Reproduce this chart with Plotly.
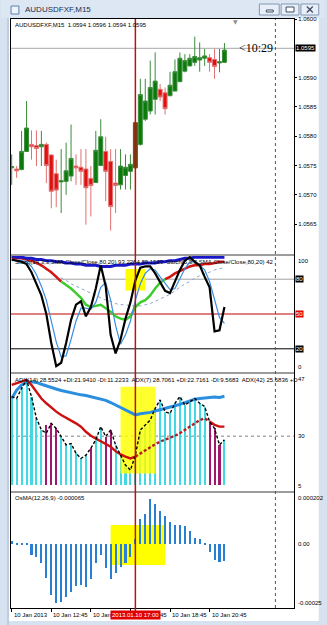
import plotly.graph_objects as go
from plotly.subplots import make_subplots

# ---------------- layout helpers (pixel -> paper) ----------------
W, H = 327, 625
ML, MR, MT, MB = 10, 31, 19, 17
PW, PH = W - ML - MR, H - MT - MB


def px(x):
    return (x - ML) / PW


def py(y):
    return (H - MB - y) / PH


# ---------------- data ----------------
bars = list(range(44))
selected_bar = 25
future_line = 53.3

open_ = [1.05746, 1.05744, 1.05743, 1.05774, 1.05786, 1.05784, 1.05782, 1.05786, 1.05768, 1.05736, 1.05722,
         1.05723, 1.05732, 1.05749, 1.05747, 1.05744, 1.05728, 1.05721, 1.05750, 1.05774, 1.05757, 1.05720,
         1.05717, 1.05733, 1.05740, 1.05746, 1.05786, 1.05829, 1.05843, 1.05863, 1.05880, 1.05874, 1.05869,
         1.05877, 1.05893, 1.05911, 1.05920, 1.05926, 1.05930, 1.05933, 1.05934, 1.05931, 1.05925, 1.05926]
high = [1.05769, 1.05749, 1.05809, 1.05860, 1.05810, 1.05810, 1.05809, 1.05789, 1.05769, 1.05760, 1.05778,
        1.05789, 1.05820, 1.05769, 1.05778, 1.05778, 1.05749, 1.05809, 1.05829, 1.05799, 1.05778, 1.05778,
        1.05778, 1.05769, 1.05769, 1.05826, 1.05898, 1.05898, 1.05929, 1.05943, 1.05889, 1.05883, 1.05910,
        1.05931, 1.05943, 1.05940, 1.05940, 1.05970, 1.05960, 1.05949, 1.05940, 1.05949, 1.05949, 1.05959]
low = [1.05717, 1.05729, 1.05742, 1.05774, 1.05760, 1.05749, 1.05749, 1.05720, 1.05677, 1.05679, 1.05669,
       1.05700, 1.05723, 1.05717, 1.05717, 1.05649, 1.05663, 1.05721, 1.05749, 1.05689, 1.05639, 1.05669,
       1.05709, 1.05709, 1.05709, 1.05743, 1.05784, 1.05826, 1.05837, 1.05837, 1.05860, 1.05837, 1.05869,
       1.05877, 1.05893, 1.05909, 1.05919, 1.05920, 1.05910, 1.05920, 1.05910, 1.05898, 1.05909, 1.05926]
close = [1.05748, 1.05741, 1.05774, 1.05814, 1.05782, 1.05779, 1.05786, 1.05750, 1.05706, 1.05708, 1.05724,
         1.05741, 1.05762, 1.05746, 1.05740, 1.05712, 1.05716, 1.05776, 1.05799, 1.05740, 1.05680, 1.05716,
         1.05749, 1.05747, 1.05752, 1.05823, 1.05871, 1.05860, 1.05883, 1.05894, 1.05867, 1.05847, 1.05887,
         1.05910, 1.05933, 1.05929, 1.05933, 1.05936, 1.05934, 1.05937, 1.05926, 1.05919, 1.05927, 1.05947]
bid_price = 1.0595
price_ticks = [1.0565, 1.0570, 1.0575, 1.0580, 1.0585, 1.0590, 1.0600]
price_range = [1.05599, 1.06000]

# stochastic pane
stoch_main = [97, 96, 95, 93, 86, 76, 66, 50, 25, 5, 8, 25, 45, 58, 61, 48, 56, 72, 92, 74, 32, 16,
              28, 46, 60, 79, 90, 91, 91, 85, 77, 70, 68, 78, 88, 96, 99, 95, 92, 82, 73, 35, 36, 56]
stoch_signal = [96, 96, 96, 95, 91, 84, 74, 62, 45, 26, 13, 14, 28, 44, 55, 55, 54, 60, 73, 77, 62, 40,
                24, 32, 44, 62, 76, 85, 89, 88, 82, 76, 71, 72, 80, 89, 95, 95, 92, 88, 78, 62, 47, 42]
stoch_slow = [98, 98, 98, 97, 96, 94, 92, 89, 86, 82, 78, 75, 72, 68, 64, 58, 56, 57, 58, 55, 52, 48,
              46, 45, 48, 56, 60, 62, 66, 72, 77, 80, 82, 85, 87, 89, 91, 92, 92, 93, 93, 94, 95, 95]
stoch_slow_key = ['up'] * 10 + ['dn'] * 21 + ['up'] * 13
stoch_long = [100, 99, 99, 98, 98, 97, 97, 96, 96, 95, 95, 94, 94, 93, 93, 92, 92, 92, 91, 91, 91, 92,
              92, 92, 93, 93, 93, 94, 94, 94, 95, 95, 96, 96, 97, 98, 98, 99, 99, 99, 99, 99, 99, 99]
stoch_dotted = [99, 98, 98, 97, 95, 93, 91, 88, 86, 83, 81, 79, 76, 74, 72, 70, 68, 66, 64, 62, 61, 59,
                58, 58, 57, 57, 57, 58, 59, 61, 63, 65, 67, 70, 73, 76, 78, 81, 83, 85, 86, 88, 89, 90]
stoch_levels = [80, 50, 20]
stoch_box = [23.0, 27.0, 70.2, 88.8]

# ADX pane
adx_hist = [40.8, 40.3, 43.1, 45.4, 40.8, 34.9, 31.7, 33.0, 33.5, 32.1, 29.9, 27.6, 28.0, 25.3, 23.9, 24.8,
            26.7, 29.0, 32.6, 29.9, 31.7, 27.6, 24.8, 22.1, 20.7, 24.8, 31.7, 33.2, 34.4, 37.6, 39.9, 36.7,
            36.2, 39.0, 40.8, 38.5, 39.4, 40.3, 39.0, 38.1, 34.0, 32.1, 27.6, 29.0]
adx_hist_key = ['c'] * 7 + ['p'] * 3 + ['c'] * 6 + ['p', 'c', 'c', 'p', 'p'] + ['c'] * 19 + ['p'] * 3 + ['c']
adx_fast = [40.8, 40.3, 43.1, 45.4, 40.8, 34.9, 31.7, 30.8, 33.5, 32.1, 29.9, 27.6, 28.0, 25.3, 23.9, 24.8,
            26.7, 29.0, 32.6, 29.9, 31.7, 27.6, 24.8, 22.1, 20.7, 24.8, 31.7, 33.2, 34.4, 37.6, 39.9, 36.7,
            36.2, 39.0, 40.8, 38.5, 39.4, 40.3, 39.0, 38.1, 34.0, 32.1, 27.6, 29.0]
adx_mid = [44.0, 44.5, 44.9, 45.4, 44.0, 42.2, 40.3, 39.0, 37.8, 36.7, 35.8, 35.1, 34.4, 33.5, 32.6, 31.2,
           30.1, 29.4, 28.7, 28.0, 27.1, 25.9, 25.0, 24.4, 23.9, 24.4, 25.3, 26.2, 27.1, 27.8, 28.5, 29.0,
           29.4, 30.1, 30.8, 31.7, 32.6, 33.5, 34.4, 34.9, 34.0, 33.1, 32.6, 32.6]
adx_mid_key = ['s'] * 25 + ['d'] * 15 + ['s'] * 4
adx_slow = [40.3, 42.6, 44.0, 44.7, 44.9, 44.7, 44.2, 43.7, 43.3, 42.9, 42.5, 42.2, 41.8, 41.4, 41.3, 41.1,
            40.8, 40.5, 40.3, 39.8, 39.2, 38.5, 37.8, 37.1, 36.3, 35.8, 36.1, 36.2, 36.5, 36.9, 37.2, 37.6,
            38.0, 38.3, 38.7, 39.2, 39.6, 40.1, 40.3, 40.5, 40.7, 40.7, 40.6, 40.9]
adx_base = 16.6
adx_range = [15, 47]
adx_level = 30
adx_box = [22.0, 29.1, 19.8, 43.5]

# OsMA pane
osma = [0.000015, 0.000002, 0.000002, 0.000002, -0.0000417, -0.0000482, -0.0000718, -0.000133, -0.000199,
        -0.000232, -0.000225, -0.000208, -0.000186, -0.000163, -0.000160, -0.000169, -0.000137, -0.0000718,
        -0.0000417, -0.0000940, -0.000137, -0.000114, -0.0000875, -0.0000718, -0.0000508, 0.00002, 0.0000985,
        0.000120, 0.000177, 0.000159, 0.000133, 0.000112, 0.0000867, 0.0000763, 0.0000763, 0.0000723,
        0.0000540, 0.0000239, 0.0000200, 0.000004, -0.0000288, -0.0000613, -0.0000677, -0.0000653]
osma_range = [-0.00025, 0.000202]
osma_box = [20.0, 31.0, -0.000081, 0.0000763]

time_tick_bars = [0, 8, 16, 24, 32, 40]
time_tick_text = ["10 Jan 2013", "10 Jan 12:45", "10 Jan 14:45", "10 Jan 16:45", "10 Jan 18:45", "10 Jan 20:45"]
x_range = [-0.14, 57.06]

FONT = "Liberation Sans"

# ---------------- figure ----------------
fig = make_subplots(rows=4, cols=1, shared_xaxes=True, vertical_spacing=0.0)

# candles (selected bar drawn separately in brown)
norm = [i for i in bars if i != selected_bar]
fig.add_trace(go.Candlestick(
    x=norm, open=[open_[i] for i in norm], high=[high[i] for i in norm],
    low=[low[i] for i in norm], close=[close[i] for i in norm],
    increasing=dict(line=dict(color="#3c8c3c", width=1), fillcolor="#0a7a0a"),
    decreasing=dict(line=dict(color="#e07070", width=1), fillcolor="#e01010"),
    whiskerwidth=0, showlegend=False, hoverinfo="skip"), row=1, col=1)
fig.add_trace(go.Candlestick(
    x=[selected_bar], open=[open_[selected_bar]], high=[high[selected_bar]],
    low=[low[selected_bar]], close=[close[selected_bar]],
    increasing=dict(line=dict(color="#7a4a10", width=1), fillcolor="#6b4212"),
    decreasing=dict(line=dict(color="#7a4a10", width=1), fillcolor="#6b4212"),
    whiskerwidth=0, showlegend=False, hoverinfo="skip"), row=1, col=1)


def runs(keys):
    segs, start = [], 0
    for k in range(1, len(keys) + 1):
        if k == len(keys) or keys[k] != keys[start]:
            segs.append((start, min(k, len(keys) - 1), keys[start]))
            start = k
    return segs


# stochastic
fig.add_trace(go.Scatter(x=bars, y=stoch_dotted, mode="lines", line=dict(color="#8ea6cf", width=1, dash="dot"),
                         showlegend=False, hoverinfo="skip"), row=2, col=1)
for a, b, k in runs(stoch_slow_key):
    fig.add_trace(go.Scatter(x=bars[a:b + 1], y=stoch_slow[a:b + 1], mode="lines",
                             line=dict(color="#d41414" if k == "up" else "#3ccc2c", width=2.5),
                             showlegend=False, hoverinfo="skip"), row=2, col=1)
fig.add_trace(go.Scatter(x=bars, y=stoch_long, mode="lines", line=dict(color="#1818c8", width=3),
                         showlegend=False, hoverinfo="skip"), row=2, col=1)
fig.add_trace(go.Scatter(x=bars, y=stoch_signal, mode="lines", line=dict(color="#3a8ee0", width=1.2),
                         showlegend=False, hoverinfo="skip"), row=2, col=1)
fig.add_trace(go.Scatter(x=bars, y=stoch_main, mode="lines", line=dict(color="#000000", width=2.2),
                         showlegend=False, hoverinfo="skip"), row=2, col=1)

# ADX
fig.add_trace(go.Bar(x=bars, y=[v - adx_base for v in adx_hist], base=adx_base, width=0.42,
                     marker=dict(color=["#42d8e4" if k == "c" else "#a0186e" for k in adx_hist_key], line_width=0),
                     showlegend=False, hoverinfo="skip"), row=3, col=1)
x0, x1, y0, y1 = adx_box
fig.add_trace(go.Scatter(x=[x0, x1, x1, x0, x0], y=[y0, y0, y1, y1, y0], mode="lines", fill="toself",
                         fillcolor="rgba(255,255,0,0.82)", line=dict(width=0), showlegend=False,
                         hoverinfo="skip"), row=3, col=1)
fig.add_trace(go.Scatter(x=bars, y=adx_slow, mode="lines", line=dict(color="#2b8fe0", width=3),
                         showlegend=False, hoverinfo="skip"), row=3, col=1)
for a, b, k in runs(adx_mid_key):
    fig.add_trace(go.Scatter(x=bars[a:b + 1], y=adx_mid[a:b + 1], mode="lines",
                             line=dict(color="#cc1111" if k == "s" else "#b02020", width=2.4,
                                       dash="solid" if k == "s" else "3px,2px"),
                             showlegend=False, hoverinfo="skip"), row=3, col=1)
fig.add_trace(go.Scatter(x=bars, y=adx_fast, mode="lines", line=dict(color="#000000", width=1.4, dash="3px,2px"),
                         showlegend=False, hoverinfo="skip"), row=3, col=1)

# OsMA
fig.add_trace(go.Bar(x=bars, y=osma, width=0.42, marker=dict(color="#2a7fd2", line_width=0),
                     showlegend=False, hoverinfo="skip"), row=4, col=1)

# ---------------- axes ----------------
ax_common = dict(showgrid=False, zeroline=False, showline=True, linecolor="#000000", linewidth=1, mirror=True)
for r in range(1, 5):
    fig.update_xaxes(range=x_range, fixedrange=True, rangeslider_visible=False, showticklabels=False,
                     **ax_common, row=r, col=1)
fig.update_xaxes(tickmode="array", tickvals=time_tick_bars, ticks="outside", ticklen=3, tickcolor="#000",
                 row=4, col=1)

fig.update_yaxes(side="right", range=price_range, tickmode="array", tickvals=price_ticks,
                 ticktext=["%.4f" % v for v in price_ticks], ticks="outside", ticklen=2, tickcolor="#000",
                 tickfont=dict(family=FONT, size=6, color="#000"), **ax_common, row=1, col=1)
fig.update_yaxes(side="right", range=[0, 100], showticklabels=False, **ax_common, row=2, col=1)
fig.update_yaxes(side="right", range=adx_range, showticklabels=False, **ax_common, row=3, col=1)
fig.update_yaxes(side="right", range=osma_range, showticklabels=False, **ax_common, row=4, col=1)

fig.update_layout(
    width=W, height=H, margin=dict(l=ML, r=MR, t=MT, b=MB),
    paper_bgcolor="#d6e2f0", plot_bgcolor="#ffffff",
    bargap=0, boxgap=0.2, boxgroupgap=0, showlegend=False,
    yaxis=dict(domain=[py(254), 1.0]),
    yaxis2=dict(domain=[py(372), py(256)]),
    yaxis3=dict(domain=[py(491), py(374)]),
    yaxis4=dict(domain=[0.0, py(493)]),
)

shapes = []
# window client area (white), title bar, buttons
shapes.append(dict(type="rect", xref="paper", yref="paper", x0=px(8), x1=px(321), y0=py(621), y1=py(18),
                   fillcolor="#ffffff", line=dict(width=0), layer="below"))
shapes.append(dict(type="rect", xref="paper", yref="paper", x0=px(0), x1=px(327), y0=py(17.5), y1=py(0),
                   fillcolor="#dde7f4", line=dict(width=0), layer="below"))
shapes.append(dict(type="line", xref="paper", yref="paper", x0=px(7), x1=px(7), y0=py(625), y1=py(18),
                   line=dict(color="#a9b9cd", width=1), layer="below"))
shapes.append(dict(type="rect", xref="paper", yref="paper", x0=px(10), x1=px(18), y0=py(14), y1=py(6),
                   fillcolor="#eef3fa", line=dict(color="#5a7fae", width=1), layer="below"))
for bx0, bx1 in [(261, 281), (283, 301), (303, 321)]:
    shapes.append(dict(type="rect", xref="paper", yref="paper", x0=px(bx0), x1=px(bx1), y0=py(15), y1=py(4),
                       fillcolor="#e9eff8", line=dict(color="#8296b0", width=1), layer="below"))
shapes.append(dict(type="rect", xref="paper", yref="paper", x0=px(268), x1=px(275), y0=py(12), y1=py(10),
                   fillcolor="#ffffff", line=dict(color="#3c4c64", width=1), layer="below"))
shapes.append(dict(type="rect", xref="paper", yref="paper", x0=px(288), x1=px(296), y0=py(12), y1=py(7),
                   fillcolor="#ffffff", line=dict(color="#3c4c64", width=1), layer="below"))
shapes.append(dict(type="line", xref="paper", yref="paper", x0=px(309), x1=px(315), y0=py(12.5), y1=py(6.5),
                   line=dict(color="#3c4c64", width=1.3), layer="below"))
shapes.append(dict(type="line", xref="paper", yref="paper", x0=px(309), x1=px(315), y0=py(6.5), y1=py(12.5),
                   line=dict(color="#3c4c64", width=1.3), layer="below"))

# yellow rectangles
sx0, sx1, sy0, sy1 = stoch_box
shapes.append(dict(type="rect", xref="x2", yref="y2", x0=sx0, x1=sx1, y0=sy0, y1=sy1,
                   fillcolor="#ffff00", line=dict(width=0), layer="below"))
ox0, ox1, oy0, oy1 = osma_box
shapes.append(dict(type="rect", xref="x4", yref="y4", x0=ox0, x1=ox1, y0=oy0, y1=oy1,
                   fillcolor="#ffff00", line=dict(width=0), layer="below"))

# level lines
shapes.append(dict(type="line", xref="x domain", yref="y", x0=0, x1=1, y0=bid_price, y1=bid_price,
                   line=dict(color="#a8a8a8", width=1), layer="below"))
for lv, col in zip(stoch_levels, ["#a0a0a0", "#c00000", "#000000"]):
    shapes.append(dict(type="line", xref="x2 domain", yref="y2", x0=0, x1=1, y0=lv, y1=lv,
                       line=dict(color=col, width=1), layer="below"))
shapes.append(dict(type="line", xref="x3 domain", yref="y3", x0=0, x1=1, y0=adx_level, y1=adx_level,
                   line=dict(color="#808080", width=1, dash="dot"), layer="below"))

# pane separators
for ya, yb in [(254, 256), (372, 374), (491, 493)]:
    shapes.append(dict(type="rect", xref="paper", yref="paper", x0=0, x1=1, y0=py(yb), y1=py(ya),
                       fillcolor="#9c9c9c", line=dict(width=0), layer="above"))

# vertical lines
shapes.append(dict(type="line", xref="x4", yref="paper", x0=future_line, x1=future_line, y0=0, y1=1,
                   line=dict(color="#555555", width=1, dash="dot"), layer="above"))
shapes.append(dict(type="line", xref="x4", yref="paper", x0=selected_bar, x1=selected_bar, y0=py(612), y1=1,
                   line=dict(color="#c01010", width=1.5), layer="above"))

fig.update_layout(shapes=shapes)

ann = []
f6 = dict(family=FONT, size=6, color="#000000")
ann.append(dict(text="AUDUSDFXF,M15", xref="paper", yref="paper", x=px(22), y=py(10), xanchor="left",
                yanchor="middle", showarrow=False, font=dict(family=FONT, size=8, color="#1b2d4a")))
ann.append(dict(text="AUDUSDFXF,M15  1.0594 1.0596 1.0594 1.0595", xref="paper", yref="paper", x=px(12),
                y=py(25), xanchor="left", yanchor="middle", showarrow=False, font=f6))
ann.append(dict(text="Stoch(14,3,3,SMA,Close/Close,80,20) 93.2264 89.1533  Stoch(5,3,3,SMA,Close/Close,80,20) 42",
                xref="paper", yref="paper", x=px(12), y=py(262), xanchor="left", yanchor="middle",
                showarrow=False, font=f6))
ann.append(dict(text="ADX(14) 28.5524 +DI:21.9410 -DI:11.2233  ADX(7) 28.7061 +DI:22.7161 -DI:9.5683  ADX(42) 25.6836 +D",
                xref="paper", yref="paper", x=px(12), y=py(380), xanchor="left", yanchor="middle",
                showarrow=False, font=f6))
ann.append(dict(text="OsMA(12,26,9) -0.000065", xref="paper", yref="paper", x=px(12), y=py(498),
                xanchor="left", yanchor="middle", showarrow=False, font=f6))
ann.append(dict(text="<10:29", xref="x", yref="y", x=45.5, y=bid_price, xanchor="left", yanchor="middle",
                showarrow=False, font=dict(family="Liberation Serif", size=12, color="#000")))
ann.append(dict(text="\u25BC", xref="x", yref="paper", x=45.3, y=py(21), xanchor="center", yanchor="middle",
                showarrow=False, font=dict(family="DejaVu Sans", size=6, color="#909090")))
ann.append(dict(text="%.4f" % bid_price, xref="paper", yref="y", x=px(297), y=bid_price, xanchor="left",
                yanchor="middle", showarrow=False, bgcolor="#000000", borderpad=0,
                font=dict(family=FONT, size=6, color="#ffffff")))

# stochastic labels
ann.append(dict(text="100", xref="paper", yref="y2", x=px(298), y=100, xanchor="left", yanchor="top",
                showarrow=False, font=f6))
for lv, bg in zip(stoch_levels, ["#000000", "#e00000", "#000000"]):
    ann.append(dict(text=str(lv), xref="paper", yref="y2", x=px(297), y=lv, xanchor="left", yanchor="middle",
                    showarrow=False, bgcolor=bg, borderpad=0, font=dict(family=FONT, size=6, color="#ffffff")))
ann.append(dict(text="0", xref="paper", yref="y2", x=px(298), y=0, xanchor="left", yanchor="bottom",
                showarrow=False, font=f6))
# ADX labels
ann.append(dict(text="47", xref="paper", yref="y3", x=px(298), y=adx_range[1], xanchor="left", yanchor="top",
                showarrow=False, font=f6))
ann.append(dict(text=str(adx_level), xref="paper", yref="y3", x=px(298), y=adx_level, xanchor="left",
                yanchor="middle", showarrow=False, font=f6))
ann.append(dict(text="5", xref="paper", yref="y3", x=px(298), y=adx_range[0], xanchor="left", yanchor="bottom",
                showarrow=False, font=f6))
# OsMA labels
ann.append(dict(text="0.000202", xref="paper", yref="y4", x=px(298), y=osma_range[1], xanchor="left",
                yanchor="top", showarrow=False, font=f6))
ann.append(dict(text="0.00", xref="paper", yref="y4", x=px(298), y=0, xanchor="left", yanchor="middle",
                showarrow=False, font=f6))
ann.append(dict(text="-0.00025", xref="paper", yref="y4", x=px(298), y=osma_range[0], xanchor="left",
                yanchor="bottom", showarrow=False, font=f6))
# time labels
for b, t in zip(time_tick_bars, time_tick_text):
    ann.append(dict(text=t, xref="x4", yref="paper", x=b, y=py(615), xanchor="left", yanchor="middle",
                    showarrow=False, font=f6))
ann.append(dict(text="2013.01.10 17:00", xref="x4", yref="paper", x=selected_bar, y=py(615), xanchor="center",
                yanchor="middle", showarrow=False, bgcolor="#e00000", borderpad=1,
                font=dict(family=FONT, size=6, color="#ffffff")))

fig.update_layout(annotations=ann)

fig.write_html("out.html")
